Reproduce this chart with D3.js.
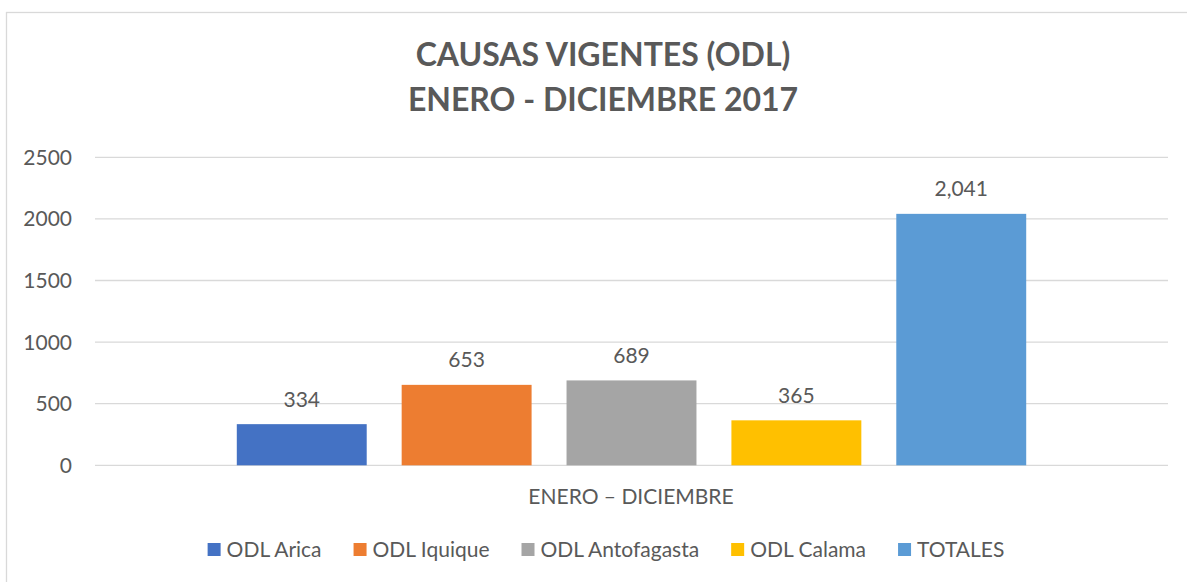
<!DOCTYPE html>
<html>
<head>
<meta charset="utf-8">
<script src="https://cdn.jsdelivr.net/npm/d3@7"></script>
<style>
  body { margin: 0; background: #fff; }
  text { font-family: Lato, "Open Sans", sans-serif; fill: #595959; }
</style>
</head>
<body>
<div id="chart"></div>
<script>
// chart data
var titleLines = ["CAUSAS VIGENTES (ODL)", "ENERO - DICIEMBRE 2017"];
var groupLabel = "ENERO \u2013 DICIEMBRE";
var seriesNames = ["ODL Arica", "ODL Iquique", "ODL Antofagasta", "ODL Calama", "TOTALES"];
var seriesValues = [334, 653, 689, 365, 2041];
var valueLabels = ["334", "653", "689", "365", "2,041"];
var seriesColors = ["#4472C4", "#ED7D31", "#A5A5A5", "#FFC000", "#5B9BD5"];
var yTicks = [0, 500, 1000, 1500, 2000, 2500];

var width = 1187, height = 582;

var svg = d3.select("#chart").append("svg").attr("width", width).attr("height", height);

// outer frame (right and bottom edges run off the picture)
svg.append("rect")
    .attr("x", 6.5).attr("y", 12.5)
    .attr("width", 1200).attr("height", 600)
    .attr("fill", "none").attr("stroke", "#D9D9D9").attr("stroke-width", 1.3);

// title
svg.selectAll(".title")
    .data(titleLines)
    .enter().append("text")
    .attr("class", "title")
    .attr("x", 603)
    .attr("y", function(d, i) { return 65.5 + i * 45.5; })
    .attr("text-anchor", "middle")
    .style("font-size", "32px")
    .style("font-weight", "bold")
    .text(function(d) { return d; });

var y = d3.scaleLinear().domain([0, 2500]).range([465.3, 157.3]);

var x = d3.scaleBand()
    .domain(seriesNames)
    .range([95, 1168])
    .paddingInner(0.212)
    .paddingOuter(0.86);

// gridlines
svg.append("g")
    .selectAll("line")
    .data(yTicks)
    .enter().append("line")
    .attr("x1", 95).attr("x2", 1168)
    .attr("y1", function(d) { return y(d); })
    .attr("y2", function(d) { return y(d); })
    .attr("stroke", "#D9D9D9")
    .attr("stroke-width", 1.3);

// y tick labels
svg.append("g")
    .selectAll("text")
    .data(yTicks)
    .enter().append("text")
    .attr("x", 72)
    .attr("y", function(d) { return y(d) + 7.5; })
    .attr("text-anchor", "end")
    .style("font-size", "21px")
    .text(function(d) { return d; });

// bars
svg.append("g")
    .selectAll("rect")
    .data(seriesValues)
    .enter().append("rect")
    .attr("x", function(d, i) { return x(seriesNames[i]); })
    .attr("y", function(d) { return y(d); })
    .attr("width", x.bandwidth())
    .attr("height", function(d) { return y(0) - y(d); })
    .attr("fill", function(d, i) { return seriesColors[i]; });

// value labels
svg.append("g")
    .selectAll("text")
    .data(seriesValues)
    .enter().append("text")
    .attr("x", function(d, i) { return x(seriesNames[i]) + x.bandwidth() / 2; })
    .attr("y", function(d) { return y(d) - 17.5; })
    .attr("text-anchor", "middle")
    .style("font-size", "21px")
    .text(function(d, i) { return valueLabels[i]; });

// category label
svg.append("text")
    .attr("x", 631)
    .attr("y", 504)
    .attr("text-anchor", "middle")
    .style("font-size", "21px")
    .text(groupLabel);

// legend, centred under the chart
var legend = svg.append("g");
var items = legend.selectAll("g")
    .data(seriesNames)
    .enter().append("g");

items.append("rect")
    .attr("width", 13).attr("height", 13)
    .attr("y", 543)
    .attr("fill", function(d, i) { return seriesColors[i]; });

items.append("text")
    .attr("x", 19)
    .attr("y", 556.5)
    .style("font-size", "21px")
    .text(function(d) { return d; });

var pos = 0;
items.each(function() {
    var g = d3.select(this);
    g.attr("transform", "translate(" + pos + ",0)");
    pos += 19 + g.select("text").node().getComputedTextLength() + 32;
});
var total = pos - 32;
legend.attr("transform", "translate(" + (606 - total / 2) + ",0)");
</script>
</body>
</html>
